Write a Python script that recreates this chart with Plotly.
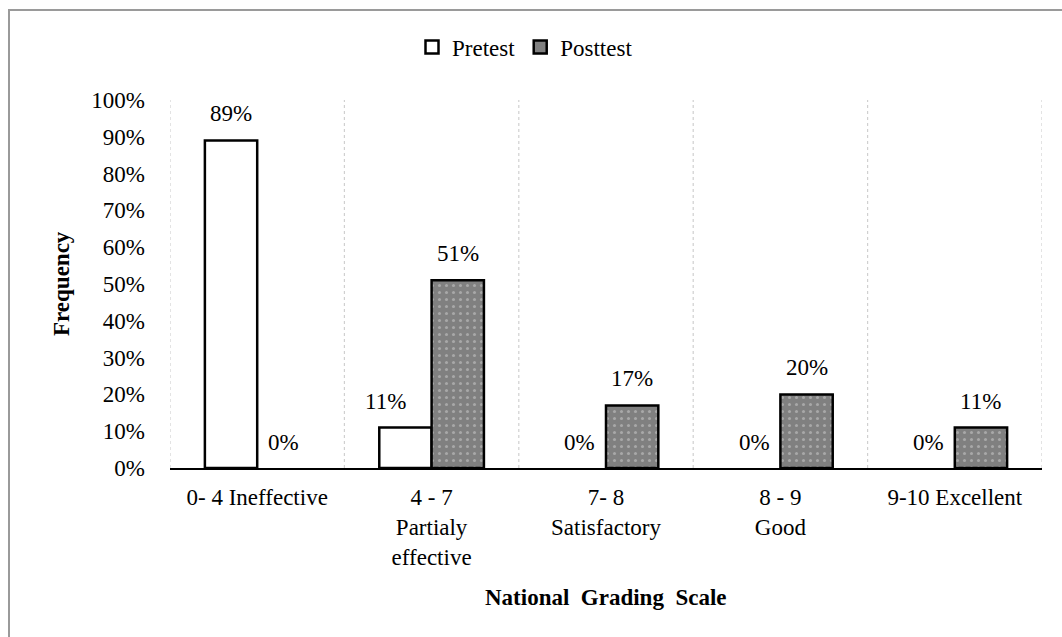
import plotly.graph_objects as go

categories = ["0- 4 Ineffective", "4 - 7<br>Partialy<br>effective", "7- 8<br>Satisfactory",
              "8 - 9<br>Good", "9-10 Excellent"]
series_names = ["Pretest", "Posttest"]
pretest = [0.89, 0.11, 0.0, 0.0, 0.0]
posttest = [0.0, 0.51, 0.17, 0.20, 0.11]

FONT = "Liberation Serif"
FS = 23
W, H = 1062, 637
L, R, T, B = 170, 20, 100, 169
pw, ph = W - L - R, H - T - B

def px_x(x):
    return (x - L) / pw

def px_y(y):
    return (H - B - y) / ph

x_idx = list(range(len(categories)))

def line_widths(vals):
    return [2.5 if v > 0 else 0 for v in vals]

fig = go.Figure()
fig.add_trace(go.Bar(
    name=series_names[0], x=x_idx, y=pretest, showlegend=False,
    marker=dict(color="white", line=dict(color="black", width=line_widths(pretest))),
))
fig.add_trace(go.Bar(
    name=series_names[1], x=x_idx, y=posttest, showlegend=False,
    marker=dict(color="#808080", line=dict(color="black", width=line_widths(posttest)),
                pattern=dict(shape=".", fgcolor="#a8a8a8", bgcolor="#808080",
                             size=7, solidity=0.15, fillmode="replace")),
))
# legend entries
for name, fill in zip(series_names, ["white", "#808080"]):
    fig.add_trace(go.Scatter(
        name=name, x=[None], y=[None], mode="markers",
        marker=dict(symbol="square", size=13, color=fill, line=dict(color="black", width=2.5)),
    ))

annotations = []
for i, v in enumerate(pretest):
    xs = -20 if (v > 0 and i > 0) else 0
    annotations.append(dict(x=i - 0.15, y=v, xref="x", yref="y", text=f"{round(v*100)}%",
                            showarrow=False, yanchor="bottom", yshift=12 if v > 0 else 11,
                            xshift=xs, font=dict(family=FONT, size=FS, color="black")))
for i, v in enumerate(posttest):
    annotations.append(dict(x=i + 0.15, y=v, xref="x", yref="y", text=f"{round(v*100)}%",
                            showarrow=False, yanchor="bottom", yshift=12 if v > 0 else 11,
                            font=dict(family=FONT, size=FS, color="black")))

annotations.append(dict(x=0.5, y=px_y(597), xref="paper", yref="paper",
                        text="<b>National\u00a0 Grading\u00a0 Scale</b>", showarrow=False,
                        xanchor="center", yanchor="middle",
                        font=dict(family=FONT, size=FS, color="black")))
annotations.append(dict(x=px_x(61), y=0.5, xref="paper", yref="paper",
                        text="<b>Frequency</b>", showarrow=False, textangle=-90,
                        xanchor="center", yanchor="middle",
                        font=dict(family=FONT, size=FS, color="black")))

shapes = [
    dict(type="line", xref="paper", yref="paper", x0=px_x(9), x1=px_x(9), y0=px_y(10), y1=px_y(640),
         line=dict(color="#9a9a9a", width=2)),
    dict(type="line", xref="paper", yref="paper", x0=px_x(8), x1=px_x(1065), y0=px_y(10), y1=px_y(10),
         line=dict(color="#9a9a9a", width=2)),
]

fig.update_layout(
    width=W, height=H,
    margin=dict(l=L, r=R, t=T, b=B),
    paper_bgcolor="white", plot_bgcolor="white",
    barmode="group", bargap=0.4, bargroupgap=0,
    font=dict(family=FONT, size=FS, color="black"),
    legend=dict(orientation="h", x=px_x(412), y=px_y(47), xanchor="left", yanchor="middle",
                font=dict(family=FONT, size=FS, color="black"), itemwidth=30,
                tracegroupgap=0),
    annotations=annotations,
    shapes=shapes,
    xaxis=dict(
        tickmode="array", tickvals=x_idx, ticktext=categories,
        range=[-0.5, len(categories) - 0.5],
        showgrid=False, showline=True, linecolor="black", linewidth=1.5,
        ticks="", ticklabelstandoff=8, zeroline=False,
        tickfont=dict(family=FONT, size=FS, color="black"),
    ),
    yaxis=dict(
        range=[0, 1], dtick=0.1, tickformat=".0%",
        showgrid=False, showline=False, zeroline=False, ticks="",
        ticklabelstandoff=24,
        tickfont=dict(family=FONT, size=FS, color="black"),
    ),
)

for b in [i - 0.5 for i in range(len(categories) + 1)]:
    fig.add_shape(type="line", xref="x", yref="paper", x0=b, x1=b, y0=0, y1=1,
                  line=dict(color="#d0d0d0", width=1.2, dash="dot"), layer="below")

fig.write_html("out.html", config={"displayModeBar": False},
               post_script="document.body.style.margin='0px';document.body.style.overflow='hidden';")
